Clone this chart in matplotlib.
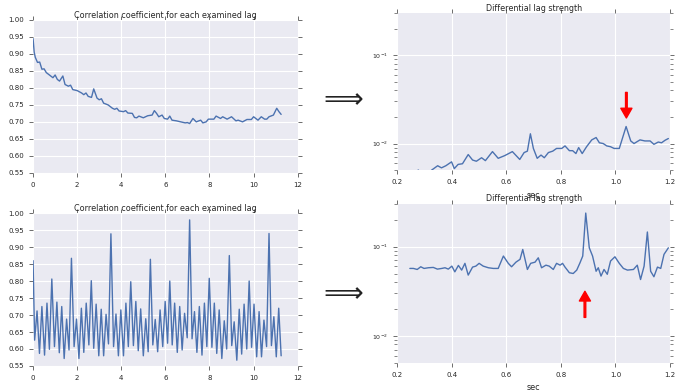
import matplotlib.pyplot as plt

# --- data ---

# top left: correlation coefficient per lag (signal 1)
lag_a = [0.0, 0.05, 0.1, 0.2, 0.3, 0.4, 0.5, 0.6, 0.8, 0.9,
         1.0, 1.1, 1.2, 1.35, 1.45, 1.6, 1.7, 1.8, 2.0, 2.2,
         2.3, 2.4, 2.5, 2.65, 2.75, 2.9, 3.0, 3.1, 3.2, 3.4,
         3.6, 3.7, 3.8, 3.9, 4.1, 4.2, 4.3, 4.5, 4.6, 4.7,
         4.8, 5.0, 5.2, 5.4, 5.5, 5.6, 5.7, 5.85, 5.95, 6.1,
         6.2, 6.3, 6.5, 6.7, 6.9, 7.0, 7.1, 7.25, 7.4, 7.6,
         7.7, 7.85, 7.95, 8.2, 8.3, 8.5, 8.6, 8.8, 9.0, 9.2,
         9.3, 9.5, 9.7, 9.9, 10.0, 10.2, 10.35, 10.5, 10.6, 10.7,
         10.9, 11.05, 11.15, 11.25]
corr_a = [0.945, 0.905, 0.89, 0.875, 0.876, 0.855, 0.856, 0.845, 0.835, 0.83,
          0.838, 0.825, 0.82, 0.835, 0.81, 0.805, 0.808, 0.795, 0.792, 0.785,
          0.78, 0.785, 0.775, 0.772, 0.797, 0.77, 0.765, 0.768, 0.755, 0.75,
          0.74, 0.737, 0.74, 0.732, 0.73, 0.733, 0.726, 0.725, 0.713, 0.712,
          0.717, 0.712, 0.718, 0.72, 0.733, 0.725, 0.715, 0.72, 0.71, 0.708,
          0.717, 0.705, 0.703, 0.7, 0.697, 0.698, 0.695, 0.71, 0.7, 0.705,
          0.697, 0.7, 0.708, 0.708, 0.717, 0.71, 0.715, 0.708, 0.715, 0.703,
          0.705, 0.7, 0.707, 0.707, 0.715, 0.705, 0.715, 0.708, 0.708, 0.715,
          0.72, 0.74, 0.73, 0.722]

# bottom left: correlation coefficient per lag (signal 2), peaks and troughs
peak_lag_b = [0.18, 0.40, 0.63, 0.85, 1.08, 1.30, 1.52, 1.74, 1.97, 2.19,
              2.41, 2.64, 2.86, 3.09, 3.31, 3.53, 3.76, 3.98, 4.21, 4.43,
              4.66, 4.88, 5.11, 5.32, 5.54, 5.76, 5.99, 6.20, 6.42, 6.65,
              6.87, 7.10, 7.32, 7.54, 7.77, 7.99, 8.22, 8.44, 8.67, 8.90,
              9.12, 9.35, 9.57, 9.80, 10.02, 10.25, 10.47, 10.70, 10.92, 11.14]
peak_corr_b = [0.712, 0.725, 0.735, 0.806, 0.738, 0.725, 0.688, 0.867, 0.688, 0.72,
               0.735, 0.801, 0.732, 0.717, 0.702, 0.939, 0.703, 0.715, 0.735, 0.798,
               0.74, 0.718, 0.689, 0.864, 0.687, 0.715, 0.74, 0.80, 0.735, 0.725,
               0.705, 0.98, 0.71, 0.725, 0.735, 0.808, 0.735, 0.715, 0.683, 0.875,
               0.68, 0.717, 0.732, 0.80, 0.732, 0.71, 0.685, 0.94, 0.695, 0.72]
trough_lag_b = [0.07, 0.29, 0.52, 0.74, 0.97, 1.19, 1.41, 1.63, 1.86, 2.08,
                2.30, 2.53, 2.75, 2.98, 3.20, 3.42, 3.65, 3.87, 4.10, 4.32,
                4.55, 4.77, 5.00, 5.22, 5.43, 5.65, 5.88, 6.10, 6.31, 6.54,
                6.76, 6.99, 7.21, 7.43, 7.66, 7.88, 8.11, 8.33, 8.56, 8.78,
                9.01, 9.24, 9.46, 9.69, 9.91, 10.14, 10.36, 10.59, 10.81, 11.03]
trough_corr_b = [0.626, 0.587, 0.582, 0.599, 0.607, 0.589, 0.572, 0.597, 0.607, 0.572,
                 0.59, 0.612, 0.602, 0.58, 0.58, 0.615, 0.607, 0.58, 0.58, 0.607,
                 0.61, 0.595, 0.58, 0.592, 0.612, 0.592, 0.607, 0.617, 0.612, 0.59,
                 0.597, 0.633, 0.63, 0.59, 0.582, 0.607, 0.605, 0.587, 0.572, 0.60,
                 0.61, 0.567, 0.585, 0.60, 0.605, 0.577, 0.577, 0.607, 0.61, 0.577]
start_b = (0.0, 0.86)
end_b = (11.25, 0.58)

# top right: differential lag strength (signal 1)
lag_c = [0.25, 0.265, 0.277, 0.29, 0.305, 0.318, 0.326, 0.348, 0.362, 0.378,
         0.399, 0.409, 0.423, 0.439, 0.46, 0.476, 0.49, 0.509, 0.523, 0.549,
         0.57, 0.594, 0.622, 0.649, 0.665, 0.677, 0.688, 0.699, 0.713, 0.727,
         0.739, 0.754, 0.77, 0.784, 0.803, 0.815, 0.831, 0.843, 0.855, 0.865,
         0.878, 0.894, 0.913, 0.929, 0.941, 0.955, 0.968, 0.982, 0.995, 1.014,
         1.039, 1.056, 1.068, 1.09, 1.108, 1.127, 1.141, 1.157, 1.169, 1.182,
         1.194]
strength_c = [0.0044, 0.0047, 0.0050, 0.0046, 0.0043, 0.0047, 0.0050, 0.0056, 0.0053, 0.0056,
              0.0062, 0.0052, 0.0058, 0.0059, 0.0075, 0.0065, 0.0063, 0.0069, 0.0064, 0.0081,
              0.0068, 0.0073, 0.0081, 0.0066, 0.0079, 0.0082, 0.0129, 0.0088, 0.0068, 0.0074,
              0.0069, 0.0079, 0.0082, 0.0088, 0.0088, 0.0094, 0.0083, 0.0083, 0.0077, 0.009,
              0.0077, 0.0092, 0.011, 0.0117, 0.0102, 0.010, 0.0094, 0.0092, 0.0088, 0.0088,
              0.0156, 0.0107, 0.010, 0.011, 0.0107, 0.0107, 0.0098, 0.0104, 0.0102, 0.0109,
              0.0114]
arrow_c = (1.04, 0.038, 0.0195)   # lag, tail, tip

# bottom right: differential lag strength (signal 2)
lag_d = [0.246, 0.259, 0.273, 0.286, 0.298, 0.314, 0.332, 0.347, 0.363, 0.375,
         0.387, 0.40, 0.411, 0.424, 0.436, 0.448, 0.46, 0.476, 0.488, 0.50,
         0.515, 0.534, 0.552, 0.57, 0.589, 0.607, 0.619, 0.635, 0.65, 0.66,
         0.677, 0.689, 0.705, 0.717, 0.729, 0.745, 0.757, 0.772, 0.784, 0.797,
         0.806, 0.815, 0.831, 0.845, 0.858, 0.87, 0.88, 0.891, 0.904, 0.916,
         0.929, 0.937, 0.947, 0.958, 0.97, 0.982, 0.998, 1.014, 1.029, 1.044,
         1.066, 1.08, 1.092, 1.105, 1.117, 1.129, 1.141, 1.154, 1.166, 1.178,
         1.194]
strength_d = [0.057, 0.057, 0.0555, 0.0595, 0.057, 0.058, 0.0585, 0.056, 0.057, 0.058,
              0.056, 0.0605, 0.0522, 0.0616, 0.0546, 0.065, 0.048, 0.059, 0.0605, 0.065,
              0.0605, 0.058, 0.057, 0.057, 0.0785, 0.065, 0.0595, 0.067, 0.072, 0.093,
              0.0555, 0.065, 0.067, 0.075, 0.058, 0.062, 0.0605, 0.0555, 0.065, 0.062,
              0.065, 0.059, 0.051, 0.050, 0.0546, 0.066, 0.0785, 0.238, 0.097, 0.0785,
              0.053, 0.058, 0.0468, 0.0555, 0.049, 0.069, 0.077, 0.065, 0.057, 0.0546,
              0.0555, 0.062, 0.0428, 0.0605, 0.146, 0.053, 0.046, 0.059, 0.057, 0.082,
              0.097]
arrow_d = (0.888, 0.0161, 0.0316)

# interleave troughs and peaks for the second correlation curve
lag_b = [start_b[0]]
corr_b = [start_b[1]]
for tl, tc, pl, pc in zip(trough_lag_b, trough_corr_b, peak_lag_b, peak_corr_b):
    lag_b += [tl, pl]
    corr_b += [tc, pc]
lag_b.append(end_b[0])
corr_b.append(end_b[1])

# --- figure ---
plt.style.use('seaborn-v0_8-darkgrid')
plt.rcParams['font.family'] = ['DejaVu Sans']

fig = plt.figure(figsize=(6.75, 3.91), dpi=100)
blue = '#4C72B0'
txt = '#262626'


def style(ax):
    ax.tick_params(which='both', direction='out', top=True, right=True,
                   colors='#555555', labelcolor=txt, labelsize=5)
    ax.tick_params(which='major', length=3, width=0.6)
    ax.tick_params(which='minor', length=2, width=0.5)
    for s in ax.spines.values():
        s.set_visible(False)


def corr_panel(rect, x, y):
    ax = fig.add_axes(rect)
    ax.plot(x, y, color=blue, lw=1)
    ax.set_xlim(0, 12)
    ax.set_ylim(0.55, 1.0)
    ax.set_xticks(range(0, 13, 2))
    ax.set_yticks([0.55, 0.60, 0.65, 0.70, 0.75, 0.80, 0.85, 0.90, 0.95, 1.00])
    ax.set_yticklabels(['%.2f' % v for v in ax.get_yticks()])
    ax.set_title('Correlation coefficient for each examined lag',
                 fontsize=5.8, color=txt, pad=1.5)
    style(ax)
    return ax


def strength_panel(rect, x, y, arrow):
    ax = fig.add_axes(rect)
    ax.plot(x, y, color=blue, lw=1)
    ax.set_yscale('log')
    ax.set_xlim(0.2, 1.2)
    ax.set_ylim(0.005, 0.3)
    ax.set_xticks([0.2, 0.4, 0.6, 0.8, 1.0, 1.2])
    ax.set_xlabel('sec', fontsize=5.8, color=txt, labelpad=4)
    ax.set_title('Differential lag strength', fontsize=5.8, color=txt, pad=2)
    ax.annotate('', xy=(arrow[0], arrow[2]), xytext=(arrow[0], arrow[1]),
                arrowprops=dict(color='red', width=1.2, headwidth=8, headlength=7))
    style(ax)
    ax.tick_params(axis='y', labelsize=4.5)
    ax.grid(False, which='minor')
    return ax


corr_panel([0.049, 0.558, 0.392, 0.391], lag_a, corr_a)
corr_panel([0.049, 0.064, 0.392, 0.391], lag_b, corr_b)
strength_panel([0.5886, 0.565, 0.404, 0.401], lag_c, strength_c, arrow_c)
strength_panel([0.5886, 0.0724, 0.404, 0.4056], lag_d, strength_d, arrow_d)

fig.text(0.505, 1 - 98 / 391, r'$\Longrightarrow$', fontsize=20,
         ha='center', va='center', color='#222222')
fig.text(0.505, 1 - 292 / 391, r'$\Longrightarrow$', fontsize=20,
         ha='center', va='center', color='#222222')

fig.savefig('out.png', dpi=100)
